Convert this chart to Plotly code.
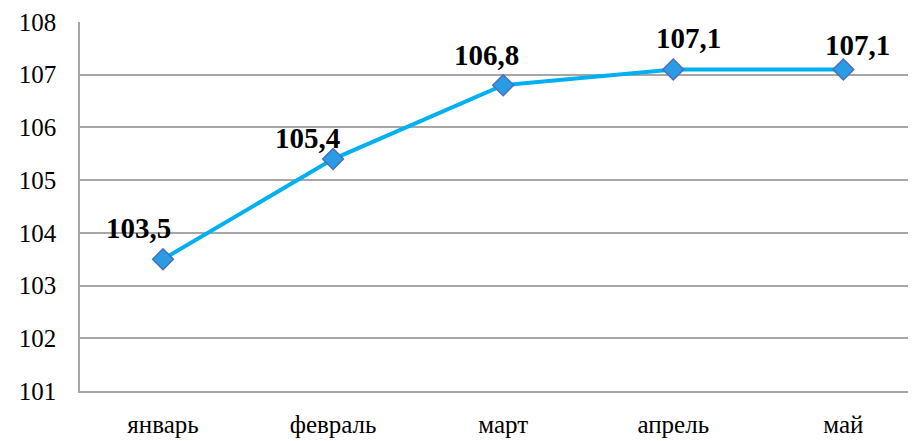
import plotly.graph_objects as go

months = ["январь", "февраль", "март", "апрель", "май"]
values = [103.5, 105.4, 106.8, 107.1, 107.1]
labels = ["103,5", "105,4", "106,8", "107,1", "107,1"]
label_dx = [-25, -26, -17, 15, 14]
label_dy = [31, 21, 30, 31, 24]
y_ticks = [101, 102, 103, 104, 105, 106, 107, 108]

SERIF = "Liberation Serif"

fig = go.Figure()
fig.add_trace(go.Scatter(
    x=list(range(len(months))), y=values, mode="lines+markers",
    line=dict(color="#00B0F0", width=4),
    marker=dict(symbol="diamond", size=16, color="#2A9CE6",
                line=dict(color="#4A70B5", width=1.5)),
    hoverinfo="skip", showlegend=False,
))
for i, (v, t) in enumerate(zip(values, labels)):
    fig.add_annotation(x=i, y=v, text="<b>%s</b>" % t, showarrow=False,
                       xshift=label_dx[i], yshift=label_dy[i],
                       font=dict(family=SERIF, size=29, color="black"))

fig.update_layout(
    width=912, height=441,
    margin=dict(l=80, r=4, t=22, b=50),
    paper_bgcolor="white", plot_bgcolor="white",
    font=dict(family=SERIF, size=25, color="black"),
    xaxis=dict(range=[-0.488, 4.38], tickmode="array",
               tickvals=list(range(len(months))), ticktext=months,
               tickfont=dict(family=SERIF, size=25, color="black"),
               showgrid=False, zeroline=False, showline=True,
               linecolor="#A6A6A6", linewidth=1.5, ticks="",
               ticklabelstandoff=10, automargin=False),
    yaxis=dict(range=[101, 108], tickvals=y_ticks,
               tickfont=dict(family=SERIF, size=25, color="black"),
               showgrid=True, gridcolor="#A6A6A6", gridwidth=1.5,
               zeroline=False, showline=True, linecolor="#A6A6A6",
               linewidth=1.5, ticks="", ticklabelstandoff=17,
               automargin=False),
)
fig.write_html("out.html", config={"displayModeBar": False},
               post_script="document.body.style.margin='0';document.body.style.overflow='hidden';")
